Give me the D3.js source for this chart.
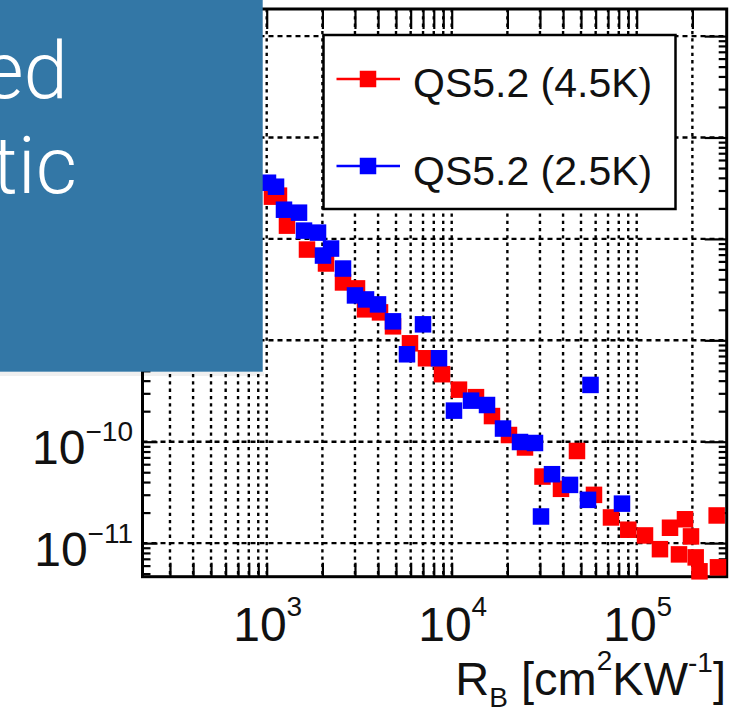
<!DOCTYPE html>
<html><head><meta charset="utf-8">
<script src="https://cdn.jsdelivr.net/npm/d3@7"></script>
<style>body{margin:0;background:#fff}svg{display:block}</style>
</head><body>
<svg id="c" width="753" height="707"></svg>
<script>
// ---- data ----
const redX = [1068, 1165, 1287, 1651, 2092, 2585, 3077, 3400, 4097, 4816, 5950, 7262, 8863, 10950, 13530, 16510, 20400, 24900, 30960, 38980, 47560, 58770, 72620, 90070, 110900, 133600, 151400, 169300, 182400, 196600, 208400, 218500, 270600, 275100];
const redY = [2.61e-8, 2.67e-8, 1.351e-8, 7.85e-9, 5.72e-9, 3.72e-9, 3.25e-9, 2.02e-9, 1.885e-9, 1.373e-9, 9.34e-10, 6.65e-10, 4.63e-10, 3.26e-10, 2.75e-10, 1.79e-10, 1.164e-10, 8.77e-11, 4.53e-11, 3.43e-11, 8.10e-11, 2.99e-11, 1.79e-11, 1.355e-11, 1.19e-11, 8.71e-12, 1.417e-11, 7.74e-12, 1.718e-11, 1.164e-11, 7.23e-12, 5.27e-12, 1.873e-11, 5.77e-12];
const blueX = [1016, 1123, 1240, 1495, 1591, 1894, 2015, 2227, 2585, 3001, 3442, 3996, 4816, 5732, 6997, 8539, 10290, 12720, 15520, 18940, 23400, 28200, 30390, 34850, 43600, 54560, 56290, 83270];
const blueY = [3.58e-8, 3.27e-8, 1.94e-8, 1.814e-8, 1.207e-8, 1.153e-8, 6.85e-9, 8.03e-9, 5.10e-9, 2.77e-9, 2.53e-9, 2.26e-9, 1.538e-9, 7.28e-10, 1.437e-9, 6.65e-10, 2.025e-10, 2.54e-10, 2.30e-10, 1.348e-10, 9.93e-11, 9.71e-11, 1.83e-11, 4.78e-11, 3.75e-11, 2.67e-11, 3.63e-10, 2.45e-11];
const seriesNames = ["QS5.2 (4.5K)", "QS5.2 (2.5K)"];
const seriesColors = ["#ff0000", "#0000ff"];
const xLabelExps = [3, 4, 5];
const yLabelExps = [-11, -10];   // the higher decades' labels are covered by the slide box
const overlayLines = ["ed", "tic"];

// ---- layout ----
const L = 142.5, R = 726.7, T = 9, B = 576.7;
const FONT = "'Liberation Sans', Arial, Helvetica, sans-serif";
const x = d3.scaleLog().domain([213.1, 3.066e5]).range([L, R]);
const y = d3.scaleLog().domain([4.663e-12, 1.85e-6]).range([B, T]);
const svg = d3.select("#c");
svg.append("rect").attr("width", 753).attr("height", 707).attr("fill", "#fff");

const isMajor = v => Math.abs(Math.log10(v) - Math.round(Math.log10(v))) < 1e-9;
const xt = x.ticks().filter(v => x(v) > L + 1 && x(v) < R - 3);
const yt = y.ticks().filter(v => y(v) < B - 1 && y(v) > T + 1);
const yMaj = yt.filter(isMajor), yMin = yt.filter(v => !isMajor(v));

// grid
const grid = svg.append("g");
grid.selectAll("line.v").data(xt).join("line")
  .attr("x1", d => x(d)).attr("x2", d => x(d)).attr("y1", T).attr("y2", B)
  .attr("stroke", "#000").attr("stroke-width", 2.4).attr("stroke-dasharray", "3.3,4");
grid.selectAll("line.h").data(yMaj).join("line")
  .attr("x1", L).attr("x2", R).attr("y1", d => y(d)).attr("y2", d => y(d))
  .attr("stroke", "#000").attr("stroke-width", 2.4).attr("stroke-dasharray", "5,4");

// axes ticks
function ax(gen, tr) {
  const g = svg.append("g").attr("transform", tr).call(gen);
  g.select(".domain").remove();
  g.selectAll("line").attr("stroke-width", 2.2);
  return g;
}
ax(d3.axisBottom(x).tickValues(xt).tickSize(-14).tickFormat(""), `translate(0,${B})`);
ax(d3.axisTop(x).tickValues(xt).tickSize(-20).tickFormat(""), `translate(0,${T})`);
ax(d3.axisLeft(y).tickValues(yMaj).tickSize(-15).tickFormat(""), `translate(${L},0)`);
ax(d3.axisLeft(y).tickValues(yMin).tickSize(-8).tickFormat(""), `translate(${L},0)`);
ax(d3.axisRight(y).tickValues(yMaj).tickSize(-22).tickFormat(""), `translate(${R},0)`);
ax(d3.axisRight(y).tickValues(yMin).tickSize(-8).tickFormat(""), `translate(${R},0)`);

// frame
svg.append("rect").attr("x", L).attr("y", T).attr("width", R - L).attr("height", B - T)
  .attr("fill", "none").attr("stroke", "#000").attr("stroke-width", 3);

// markers
const MS = 16.5;
const series = [
  {xs: redX, ys: redY, color: seriesColors[0]},
  {xs: blueX, ys: blueY, color: seriesColors[1]}
];
series.forEach(s => {
  svg.append("g").selectAll("rect").data(s.xs.map((v, i) => [v, s.ys[i]])).join("rect")
    .attr("x", d => x(d[0]) - MS / 2).attr("y", d => y(d[1]) - MS / 2)
    .attr("width", MS).attr("height", MS).attr("fill", s.color);
});

// legend
const lg = svg.append("g");
lg.append("rect").attr("x", 323.5).attr("y", 35).attr("width", 352).attr("height", 174)
  .attr("fill", "#fff").attr("stroke", "#000").attr("stroke-width", 2.5);
const legY = [79, 166], legBase = [97, 184.5];
seriesNames.forEach((n, i) => {
  lg.append("line").attr("x1", 336.5).attr("x2", 400).attr("y1", legY[i]).attr("y2", legY[i])
    .attr("stroke", seriesColors[i]).attr("stroke-width", 2.5);
  lg.append("rect").attr("x", 368 - MS / 2).attr("y", legY[i] - MS / 2).attr("width", MS).attr("height", MS)
    .attr("fill", seriesColors[i]);
  lg.append("text").attr("x", 413).attr("y", legBase[i]).attr("font-family", FONT)
    .attr("font-size", 41).attr("fill", "#111").text(n);
});

// x tick labels
xLabelExps.forEach(e => {
  const t = svg.append("text").attr("x", x(Math.pow(10, e)) + 1).attr("y", 641)
    .attr("text-anchor", "middle").attr("font-family", FONT).attr("font-size", 48).attr("fill", "#111");
  t.append("tspan").text("10");
  t.append("tspan").attr("dy", -25).attr("font-size", 28).text(String(e));
});
// y tick labels
yLabelExps.forEach(e => {
  const t = svg.append("text").attr("x", 133).attr("y", y(Math.pow(10, e)) + 22.5)
    .attr("text-anchor", "end").attr("font-family", FONT).attr("font-size", 48).attr("fill", "#111");
  t.append("tspan").text("10");
  t.append("tspan").attr("dy", -23).attr("font-size", 28).text("\u2212" + Math.abs(e));
});

// x axis title
const tt = svg.append("text").attr("x", 726).attr("y", 695).attr("text-anchor", "end")
  .attr("font-family", FONT).attr("font-size", 47).attr("fill", "#111");
tt.append("tspan").text("R");
tt.append("tspan").attr("dy", 12).attr("font-size", 28).text("B");
tt.append("tspan").attr("dy", -12).text(" [cm");
tt.append("tspan").attr("dy", -25).attr("font-size", 28).text("2");
tt.append("tspan").attr("dy", 25).text("KW");
tt.append("tspan").attr("dy", -23).attr("font-size", 28).text("-1");
tt.append("tspan").attr("dy", 23).text("]");

// overlay slide box
svg.append("rect").attr("x", 0).attr("y", 372).attr("width", 264).attr("height", 4)
  .attr("fill", "#000").attr("opacity", 0.06);
svg.append("rect").attr("x", 0).attr("y", 0).attr("width", 262.7).attr("height", 371.7)
  .attr("fill", "#3377a6");
const ox = [68, 77], oy = [98, 193];
overlayLines.forEach((s, i) => {
  svg.append("text").attr("x", ox[i]).attr("y", oy[i]).attr("text-anchor", "end")
    .attr("font-family", "Roboto, 'Open Sans', Lato, sans-serif").attr("font-weight", 300)
    .attr("font-size", 80).attr("fill", "#fff").text(s);
});
</script>
</body></html>
